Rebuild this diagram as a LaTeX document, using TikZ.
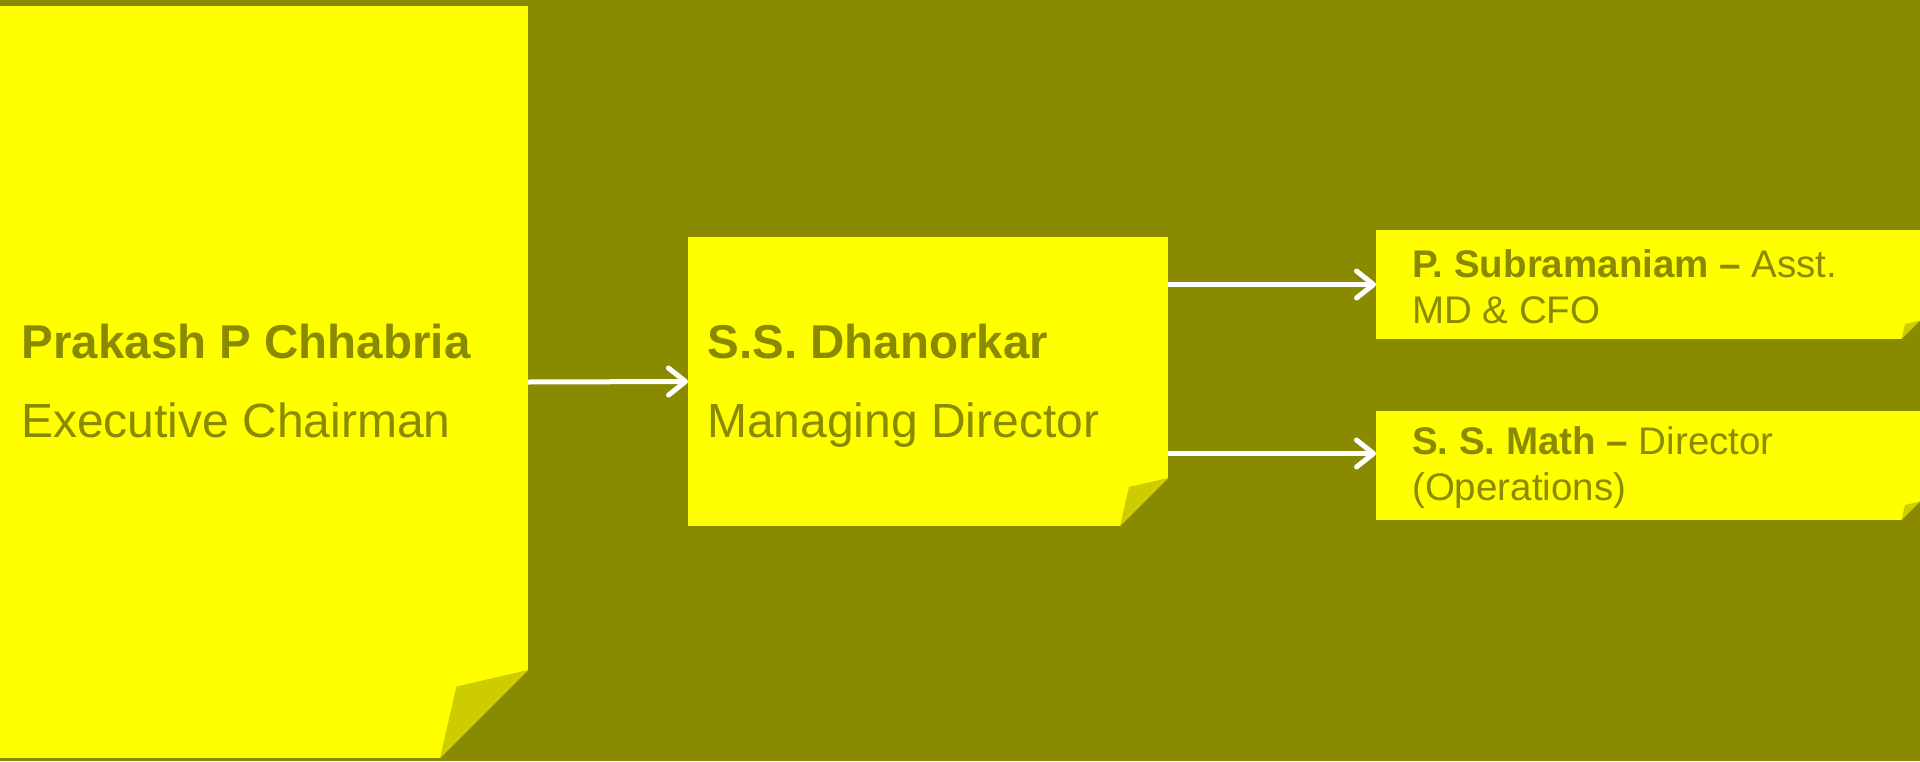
\documentclass[tikz,border=0pt]{standalone}
\usepackage{fontspec}
\setmainfont{Liberation Sans}
\usetikzlibrary{arrows.meta}
\definecolor{bgolive}{RGB}{138,138,0}
\definecolor{noteyellow}{RGB}{255,255,0}
\definecolor{foldyellow}{RGB}{204,204,0}
\definecolor{textolive}{RGB}{138,138,0}
\begin{document}
\begin{tikzpicture}[x=1pt,y=-1pt,
  note/.style={fill=noteyellow, draw=none, inner sep=0pt, outer sep=0pt, anchor=north west,
    path picture={
      \fill[bgolive] ([yshift=#1]path picture bounding box.south east) -- ([xshift=2pt,yshift=-2pt]path picture bounding box.south east) -- ([xshift=-#1]path picture bounding box.south east) -- cycle;
      \fill[foldyellow] ([yshift=#1]path picture bounding box.south east) -- ([xshift=-0.8125*#1,yshift=0.8125*#1]path picture bounding box.south east) -- ([xshift=-#1]path picture bounding box.south east) -- cycle;}},
  lbl/.style={inner sep=0pt, anchor=base west, text=textolive},
  bigbold/.style={lbl, font=\fontsize{47.5}{56}\selectfont\bfseries},
  bigreg/.style={lbl, font=\fontsize{48}{56}\selectfont},
  smalltxt/.style={lbl, font=\fontsize{38.5}{44}\selectfont},
  conn/.style={draw=white, line width=5pt, -{Straight Barb[length=17pt,width=27pt,round]}}
]
\useasboundingbox (0,0) rectangle (1920,761);
\fill[bgolive] (0,0) rectangle (1920,761);

\node[note=88pt, minimum width=528pt, minimum height=752pt] (chair) at (0,6) {};
\node[note=48pt, minimum width=480pt, minimum height=289pt] (md) at (688,237) {};
\node[note=18.5pt, minimum width=544pt, minimum height=109pt] (cfo) at (1376,230) {};
\node[note=18.5pt, minimum width=544pt, minimum height=109pt] (ops) at (1376,411) {};

\node[bigbold] (chairname) at (21.5,358) {Prakash P Chhabria};
\node[bigreg] (chairtitle) at (21,437) {Executive Chairman};
\node[bigbold] (mdname) at (707.5,358) {S.S. Dhanorkar};
\node[bigreg] (mdtitle) at (707,437) {Managing Director};
\node[smalltxt] (cfoline1) at (1412,277) {\textbf{P. Subramaniam –} Asst.};
\node[smalltxt] (cfoline2) at (1412,323) {MD \& CFO};
\node[smalltxt] (opsline1) at (1412,454) {\textbf{S. S. Math –} Director};
\node[smalltxt] (opsline2) at (1412,500) {(Operations)};

\coordinate (opsin) at ([yshift=12pt]ops.west);
\draw[conn] (chair.east) -- (md.west);
\draw[conn] (md.east |- cfo.west) -- (cfo.west);
\draw[conn] (md.east |- opsin) -- (opsin);
\end{tikzpicture}
\end{document}
